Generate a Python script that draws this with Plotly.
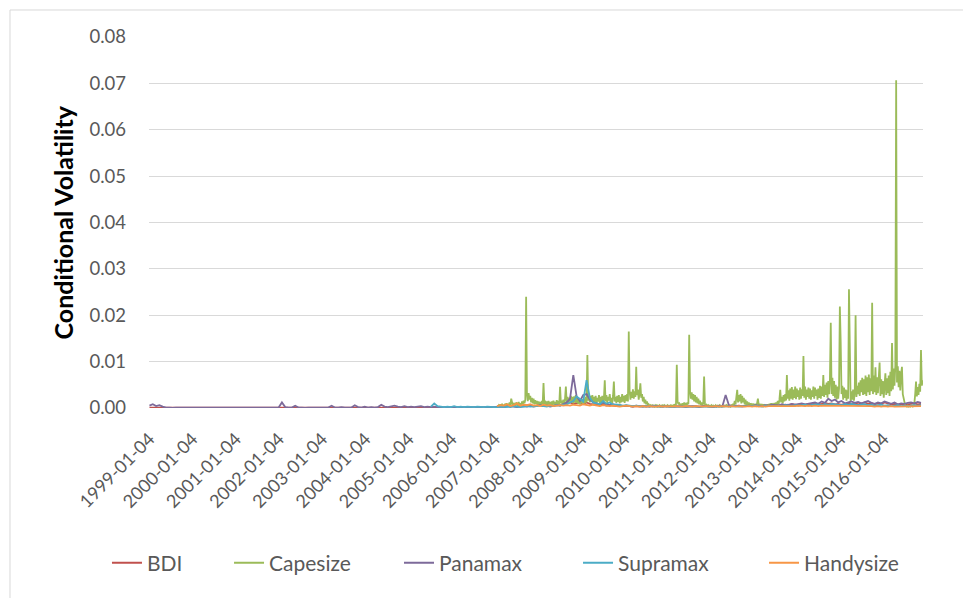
import numpy as np
import pandas as pd
import plotly.graph_objects as go

# Weekly conditional volatility of the Baltic dry indices (values in units of 1e-4).
ORIGIN = pd.Timestamp("1999-01-04")

# BDI: every 4th week from 1999-01-04
bdi_start_week, bdi_step = 0, 4
bdi_e4 = [
    1, 1, 1, 1, 1, 0, 1, 1, 0, 1, 1, 1, 0, 1, 1, 1, 0, 1, 1, 1,
    0, 1, 1, 1, 0, 1, 1, 1, 1, 0, 1, 1, 1, 1, 0, 1, 1, 1, 1, 1,
    1, 1, 1, 1, 1, 1, 1, 0, 1, 1, 1, 0, 1, 1, 1, 1, 1, 1, 1, 1,
    1, 1, 1, 1, 1, 1, 1, 1, 1, 1, 1, 1, 1, 1, 1, 1, 1, 1, 1, 1,
    1, 1, 1, 1, 1, 1, 1, 1, 1, 1, 1, 1, 1, 1, 1, 1, 1, 1, 1, 1,
    1, 1, 1, 1, 1,
    3, 4, 3, 4, 5, 4, 3, 5, 4, 6, 5, 4, 5, 6, 4, 5, 6, 5, 7, 6, 8,
    10, 12, 9, 11, 10, 8, 12, 9, 8,
    7, 6, 7, 5, 6, 5, 4, 5, 4, 5, 4, 3, 4, 3, 4, 3, 4, 3, 4, 3,
    3, 4, 3, 4, 3, 3, 4, 3, 4, 3, 4, 3, 4, 5, 4, 3, 4, 5, 4, 5,
    4, 5, 4, 5, 4,
    5, 4, 6, 5, 4, 6, 5, 6, 5, 7, 6, 5, 7, 6, 8, 7, 6, 8, 7, 9,
    8, 10, 8, 9, 11, 9, 10, 8, 9, 7, 8, 10, 9, 11, 8, 10, 12, 9, 11, 8,
    10, 9, 12, 10, 8, 9, 7, 9, 6, 8, 9, 10, 8, 9,
]

# Capesize: weekly from 2007-01-29 (week 421), 13 weeks per row
cape_start_week, cape_step = 421, 1
capesize_e4 = [
    3, 6, 3, 8, 4, 9, 5, 4, 7, 5, 10, 6, 9,
    5, 12, 6, 20, 8, 5, 11, 6, 4, 12, 6, 5, 13,
    6, 10, 5, 14, 8, 16, 10, 18, 240, 30, 15, 32, 18,
    26, 12, 22, 10, 20, 8, 17, 9, 15, 7, 14, 8, 13,
    7, 15, 8, 54, 9, 16, 7, 14, 6, 15, 8, 13, 6,
    14, 7, 16, 8, 13, 6, 17, 9, 15, 7, 46, 10, 16,
    8, 18, 9, 20, 46, 12, 24, 10, 22, 14, 26, 12, 24,
    10, 25, 12, 28, 11, 22, 9, 20, 8, 18, 10, 19, 9,
    20, 10, 24, 12, 114, 16, 30, 12, 26, 14, 28, 10, 24,
    12, 26, 9, 22, 14, 28, 10, 24, 12, 26, 9, 22, 60,
    14, 28, 11, 24, 16, 30, 12, 22, 10, 26, 57, 14, 24,
    11, 26, 13, 28, 10, 24, 12, 30, 14, 26, 11, 28, 15,
    30, 14, 165, 38, 18, 35, 22, 40, 20, 36, 24, 89, 28,
    40, 18, 32, 53, 22, 30, 14, 24, 10, 18, 8, 14, 6,
    8, 4, 6, 3, 7, 4, 5, 3, 6, 4, 7, 3, 5,
    6, 3, 5, 4, 7, 3, 6, 4, 5, 3, 6, 4, 5,
    4, 7, 3, 5, 4, 8, 5, 6, 93, 14, 8, 10, 6,
    9, 5, 10, 6, 12, 7, 9, 6, 12, 8, 158, 36, 20,
    34, 18, 30, 14, 28, 12, 24, 10, 20, 8, 16, 7, 12,
    6, 10, 68, 8, 5, 7, 4, 6, 3, 5, 4, 6, 3,
    5, 3, 4, 6, 3, 5, 4, 3, 6, 4, 3, 5, 4,
    3, 5, 4, 6, 3, 7, 4, 5, 3, 6, 5, 9, 6,
    15, 8, 24, 39, 12, 28, 14, 30, 10, 26, 12, 22, 8,
    18, 7, 14, 6, 12, 5, 10, 4, 8, 6, 9, 4, 7,
    5, 10, 20, 6, 9, 4, 7, 5, 8, 4, 6, 3, 7,
    4, 8, 5, 9, 4, 10, 6, 8, 5, 11, 7, 12, 8,
    15, 8, 18, 39, 12, 24, 10, 28, 14, 30, 16, 71, 20,
    38, 16, 42, 20, 45, 18, 40, 22, 46, 19, 42, 24, 38,
    18, 44, 20, 40, 26, 112, 22, 46, 18, 40, 24, 44, 20,
    42, 18, 38, 24, 46, 20, 44, 26, 40, 18, 42, 22, 48,
    20, 46, 26, 71, 24, 50, 28, 55, 22, 58, 30, 62, 184,
    30, 65, 26, 58, 22, 50, 18, 46, 20, 42, 219, 143, 30,
    48, 18, 44, 22, 40, 16, 38, 20, 256, 42, 14, 36, 18,
    40, 16, 34, 200, 24, 48, 30, 55, 26, 60, 34, 65, 28,
    62, 30, 70, 26, 66, 34, 72, 28, 64, 36, 227, 30, 70,
    34, 88, 28, 66, 32, 60, 98, 26, 62, 30, 58, 22, 54,
    75, 28, 64, 32, 70, 26, 78, 36, 140, 40, 85, 48, 92,
    707, 55, 90, 45, 80, 38, 72, 89, 30, 18, 8, 5, 4,
    3, 5, 3, 4, 3, 5, 4, 3, 6, 10, 30, 57, 25,
    45, 28, 52, 35, 125, 48, 60,
]

# Panamax: every 4th week from 1999-01-04
pana_start_week, pana_step = 0, 4
panamax_e4 = [
    5, 8, 4, 6, 3,
    1, 1, 0, 1, 1, 0, 1, 1, 1, 0, 1, 1, 1, 0, 1, 1, 1, 0, 1, 1,
    1, 0, 1, 1, 1, 0, 1, 1, 1, 1, 0, 1, 1, 1, 1,
    12, 2, 1, 1, 5,
    1, 1, 0, 1, 1, 1, 0, 1, 1, 1,
    5, 1, 1, 2, 1, 1, 1, 6, 2, 1, 3, 1, 2, 1, 2, 7, 3, 2, 3, 5,
    3, 2, 4, 2, 3, 2, 3, 4, 2, 3,
    2, 3, 2, 1, 2, 2, 1, 2, 1, 2, 1, 2, 1, 1, 2, 1, 2, 1, 1, 2,
    2, 3, 2, 3, 4, 3, 2, 3, 4, 3, 5, 3, 4, 6, 4, 5, 3, 4, 6, 5, 8,
    12, 20, 71, 25, 15, 28, 30, 18, 12,
    10, 8, 12, 7, 6, 8, 5, 6, 4, 5, 4, 3, 5, 4, 3, 4, 3, 5, 4, 3,
    3, 4, 3, 2, 3, 4, 3, 2, 3, 4, 3, 2, 3, 4, 3, 2, 3, 4, 3, 28,
    6, 4, 5, 4, 3,
    4, 5, 4, 6, 5, 4, 6, 5, 7, 6, 5, 8, 6, 7, 9, 7, 8, 10, 8, 9,
    10, 12, 9, 14, 11, 20, 15, 18, 12, 15, 10, 12, 14, 11, 13, 10, 12, 15, 11, 9,
    12, 10, 14, 11, 9, 12, 8, 10, 9, 11, 12, 10, 13, 11,
]

# Supramax: every 4th week from 2005-07-11 (week 340)
supra_start_week, supra_step = 340, 4
supramax_e4 = [
    3, 10, 4, 3, 2, 3, 2, 4, 2, 3, 2, 3, 2, 2, 3, 2, 2, 3, 2, 2,
    2, 3, 2, 3, 2, 4, 3, 2, 3, 4, 3, 3, 4, 5, 4, 3, 5, 4, 6, 5, 7,
    8, 12, 15, 25, 20, 14, 60, 22, 12,
    10, 8, 15, 9, 12, 7, 8, 6, 5, 6, 5, 4, 5, 4, 3, 4, 3, 4, 3, 3,
    3, 4, 3, 2, 3, 3, 2, 3, 3, 2, 3, 2, 3, 3, 2, 3, 2, 3, 3, 4,
    3, 4, 3, 3, 4,
    4, 3, 4, 5, 4, 3, 5, 4, 5, 4, 5, 4, 6, 5, 4, 6, 5, 6, 7, 5,
    6, 8, 7, 6, 8, 7, 9, 8, 7, 6, 8, 7, 9, 8, 6, 7, 8, 6, 7, 5,
    6, 7, 5, 6, 4, 5, 6, 4, 5, 4, 5, 6, 5, 6,
]

# Handysize: every 4th week from 2007-01-22 (week 420)
handy_start_week, handy_step = 420, 4
handysize_e4 = [
    4, 6, 5, 8, 4, 6, 10, 5, 7, 6, 8, 5, 6, 4, 7, 5, 6, 4, 5, 6, 5,
    6, 5, 7, 6, 5, 8, 6, 5, 7,
    5, 4, 6, 5, 4, 5, 4, 3, 4, 5, 4, 3, 4, 3, 4, 3, 4, 3, 3, 4,
    3, 4, 3, 3, 4, 3, 3, 4, 3, 3, 4, 3, 3, 4, 3, 3, 4, 3, 4, 3,
    3, 4, 3, 4, 3,
    3, 4, 3, 4, 3, 4, 3, 4, 4, 3, 4, 3, 4, 4, 3, 4, 5, 4, 4, 5,
    4, 5, 4, 5, 5, 4, 5, 4, 5, 4, 5, 4, 5, 4, 4, 5, 4, 5, 4, 3,
    4, 3, 4, 3, 4, 3, 3, 4, 3, 4, 3, 4, 3, 4,
]

tick_labels = [f"{y}-01-04" for y in range(1999, 2017)]

series = [
    ("BDI", bdi_e4, bdi_start_week, bdi_step, "#C0504D"),
    ("Capesize", capesize_e4, cape_start_week, cape_step, "#9BBB59"),
    ("Panamax", panamax_e4, pana_start_week, pana_step, "#7D6A9A"),
    ("Supramax", supramax_e4, supra_start_week, supra_step, "#4BACC6"),
    ("Handysize", handysize_e4, handy_start_week, handy_step, "#F79646"),
]

# left edge of each legend entry (paper fraction of the plot width)
legend_x = [-0.0543, 0.1034, 0.3230, 0.5543, 0.7946]


def week_dates(start_week, step, n):
    weeks = start_week + step * np.arange(n)
    return ORIGIN + pd.to_timedelta(weeks * 7, unit="D")


FONT = "Lato, 'Open Sans', sans-serif"
GRAY = "#595959"

fig = go.Figure()
legend_layout = {}
for i, (name, vals, w0, step, color) in enumerate(series):
    key = "legend" if i == 0 else f"legend{i + 1}"
    fig.add_trace(go.Scatter(
        x=week_dates(w0, step, len(vals)),
        y=[v / 1e4 for v in vals],
        mode="lines",
        name=name,
        legend=key,
        line=dict(color=color, width=1.8),
    ))
    legend_layout[key] = dict(
        orientation="h", x=legend_x[i], xanchor="left",
        y=-0.418, yanchor="middle",
        font=dict(family=FONT, size=21, color=GRAY),
        bgcolor="rgba(0,0,0,0)",
    )

fig.update_layout(
    width=963, height=598,
    margin=dict(l=149, r=40, t=37, b=190),
    paper_bgcolor="white", plot_bgcolor="white",
    font=dict(family=FONT, size=18, color=GRAY),
    showlegend=True,
    xaxis=dict(
        type="date",
        range=["1998-12-31", "2016-12-01"],
        tickvals=[pd.Timestamp(t) for t in tick_labels],
        ticktext=tick_labels,
        tickangle=-45,
        showgrid=False, zeroline=False, showline=False,
        ticks="", ticklabelstandoff=16,
        tickfont=dict(family=FONT, size=18, color=GRAY),
    ),
    yaxis=dict(
        range=[0, 0.08], dtick=0.01, tickformat=".2f",
        showgrid=True, gridcolor="#D9D9D9", gridwidth=1,
        zeroline=False, showline=False, ticks="",
        ticklabelstandoff=22,
        tickfont=dict(family=FONT, size=18.5, color=GRAY),
    ),
    annotations=[dict(
        text="<b>Conditional Volatility</b>",
        xref="paper", yref="paper", x=-0.1124, y=0.5,
        xanchor="center", yanchor="middle", textangle=-90,
        showarrow=False, font=dict(family=FONT, size=25, color="#000000"),
    )],
    shapes=[dict(
        type="rect", xref="paper", yref="paper",
        x0=-0.1796, x1=1.2, y0=1.0728, y1=-0.7,
        line=dict(color="#D9D9D9", width=1), layer="below",
    )],
    **legend_layout,
)

fig.write_html("out.html")
